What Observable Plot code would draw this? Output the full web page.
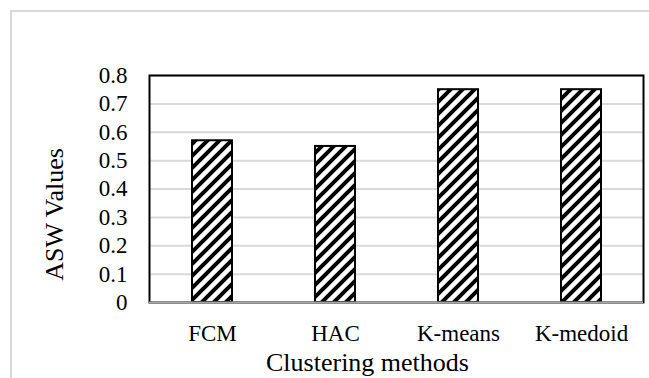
<!DOCTYPE html>
<html>
<head>
<meta charset="utf-8">
<script src="https://cdn.jsdelivr.net/npm/d3@7"></script>
<script src="https://cdn.jsdelivr.net/npm/@observablehq/plot@0.6"></script>
<style>
  html, body { margin: 0; padding: 0; background: white; overflow: hidden; }
  #wrap { position: relative; width: 649px; height: 378px; overflow: hidden; }
  #border { position: absolute; left: 10px; top: 10px; width: 700px; height: 420px; border: 2px solid #d9d9d9; box-sizing: border-box; }
  #chart { position: absolute; left: 0; top: 0; }
  #chart svg, #chart svg text { font-family: "Liberation Serif", "Times New Roman", serif !important; }
</style>
</head>
<body>
<div id="wrap"><div id="border"></div><div id="chart"></div></div>
<script>
const categories = ["FCM", "HAC", "K-means", "K-medoid"];
const aswValues = [0.57, 0.55, 0.75, 0.75];
const yTicks = [0, 0.1, 0.2, 0.3, 0.4, 0.5, 0.6, 0.7, 0.8];
const yTickLabels = ["0", "0.1", "0.2", "0.3", "0.4", "0.5", "0.6", "0.7", "0.8"];
const xTitle = "Clustering methods";
const yTitle = "ASW Values";

const data = categories.map((c, i) => ({method: c, asw: aswValues[i]}));
const serif = "'Liberation Serif', 'Times New Roman', serif";

const svg = Plot.plot({
  width: 649,
  height: 378,
  marginLeft: 149,
  marginRight: 6,
  marginTop: 75,
  marginBottom: 76,
  style: "font-family: 'Liberation Serif', 'Times New Roman', serif; font-size: 23px; color: black; background: transparent; overflow: visible;",
  x: {domain: categories, paddingInner: 0.676, paddingOuter: 0.338},
  y: {domain: [0, 0.8]},
  marks: [
    Plot.gridY(yTicks, {stroke: "#d9d9d9", strokeWidth: 2, strokeOpacity: 1}),
    Plot.barY(data, {x: "method", y: "asw", fill: "url(#hatch)", stroke: "black", strokeWidth: 2}),
    Plot.frame({stroke: "black", strokeWidth: 2}),
    Plot.ruleY([0], {stroke: "#a6a6a6", strokeWidth: 2}),
    Plot.axisY(yTicks, {tickSize: 0, tickPadding: 22, tickFormat: d => yTickLabels[yTicks.indexOf(d)], label: null, fontSize: 23, fontFamily: serif}),
    Plot.axisX({tickSize: 0, tickPadding: 22, label: null, fontSize: 23, fontFamily: serif}),
    Plot.text([yTitle], {text: d => d, frameAnchor: "left", textAnchor: "middle", lineAnchor: "middle", rotate: -90, dx: -95, dy: 25.5, fontSize: 26, fontFamily: serif}),
    Plot.text([xTitle], {text: d => d, frameAnchor: "bottom", textAnchor: "middle", lineAnchor: "middle", dx: -29, dy: 60, fontSize: 26, fontFamily: serif})
  ]
});

d3.select(svg).insert("defs", ":first-child").html(
  '<pattern id="hatch" patternUnits="userSpaceOnUse" width="12" height="12">' +
  '<rect width="12" height="12" fill="white"/>' +
  '<path d="M-3,3 l6,-6 M0,12 l12,-12 M9,15 l6,-6" stroke="black" stroke-width="4"/>' +
  '</pattern>'
);

document.getElementById("chart").appendChild(svg);
</script>
</body>
</html>
